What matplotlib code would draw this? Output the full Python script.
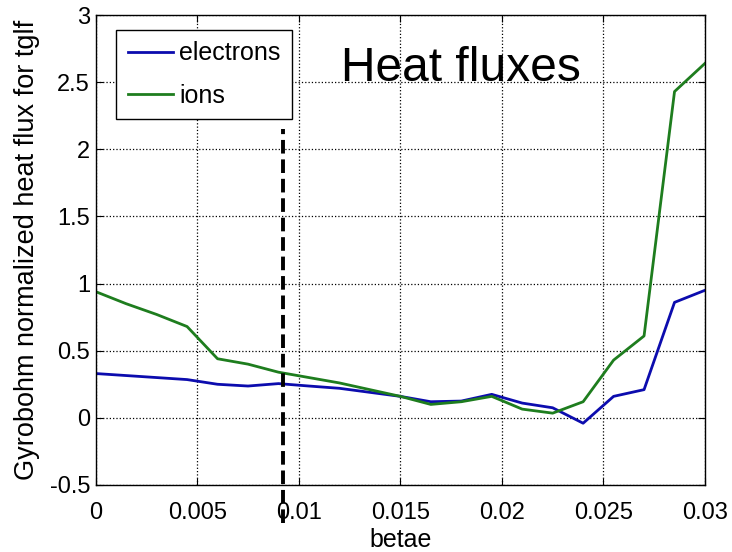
import matplotlib
matplotlib.use("Agg")
import matplotlib.pyplot as plt

plt.rcParams['font.family'] = ['Liberation Sans', 'DejaVu Sans']

betae = [0, 0.0015, 0.003, 0.0045, 0.006, 0.0075, 0.009, 0.0105, 0.012, 0.0135,
         0.015, 0.0165, 0.018, 0.0195, 0.021, 0.0225, 0.024, 0.0255, 0.027, 0.0285, 0.03]
electrons = [0.33, 0.315, 0.30, 0.285, 0.25, 0.237, 0.255, 0.237, 0.22, 0.19,
             0.16, 0.12, 0.125, 0.175, 0.11, 0.075, -0.04, 0.16, 0.21, 0.86, 0.95]
ions = [0.94, 0.85, 0.77, 0.68, 0.44, 0.40, 0.34, 0.30, 0.26, 0.21,
        0.16, 0.10, 0.12, 0.16, 0.065, 0.035, 0.12, 0.43, 0.61, 2.43, 2.64]
xticks = [0, 0.005, 0.01, 0.015, 0.02, 0.025, 0.03]
xticklabels = ['0', '0.005', '0.01', '0.015', '0.02', '0.025', '0.03']
yticks = [-0.5, 0, 0.5, 1, 1.5, 2, 2.5, 3]
yticklabels = ['-0.5', '0', '0.5', '1', '1.5', '2', '2.5', '3']
marker_x = 0.0092
marker_top = 2.15

fig = plt.figure(figsize=(7.32, 5.52), dpi=100)
ax = fig.add_axes([0.1307, 0.1214, 0.8324, 0.8514])

ax.plot(betae, electrons, color='#0c0cae', lw=2.0, label='electrons')
ax.plot(betae, ions, color='#1e7d1e', lw=2.0, label='ions')

# dashed marker, runs past the bottom axis like in the original
ax.plot([marker_x, marker_x], [-0.78, marker_top], color='black', lw=2.8,
        linestyle=(0, (3.5, 1.5)), clip_on=False, zorder=5)

ax.set_xlim(0, 0.03)
ax.set_ylim(-0.5, 3)
ax.set_xticks(xticks)
ax.set_xticklabels(xticklabels, fontsize=17)
ax.set_yticks(yticks)
ax.set_yticklabels(yticklabels, fontsize=17)
ax.tick_params(direction='in', top=True, right=True, length=5)
ax.tick_params(axis='x', pad=12)
ax.tick_params(axis='y', pad=4)
ax.grid(True, linestyle=':', color='black', lw=0.9)
for s in ax.spines.values():
    s.set_linewidth(1.0)

ax.set_xlabel('betae', fontsize=18, labelpad=3)
ax.set_ylabel('Gyrobohm normalized heat flux for tglf', fontsize=19.5, labelpad=7)

ax.text(0.0121, 2.51, 'Heat fluxes', fontsize=34.5, ha='left', va='baseline')

leg = ax.legend(loc='upper left', bbox_to_anchor=(0.034, 0.968), fontsize=18,
                fancybox=False, framealpha=1, edgecolor='black',
                handlelength=1.8, handletextpad=0.25, borderpad=0.45,
                labelspacing=0.75, borderaxespad=0)
leg.get_frame().set_linewidth(1.0)

fig.savefig('out.png', dpi=100)
